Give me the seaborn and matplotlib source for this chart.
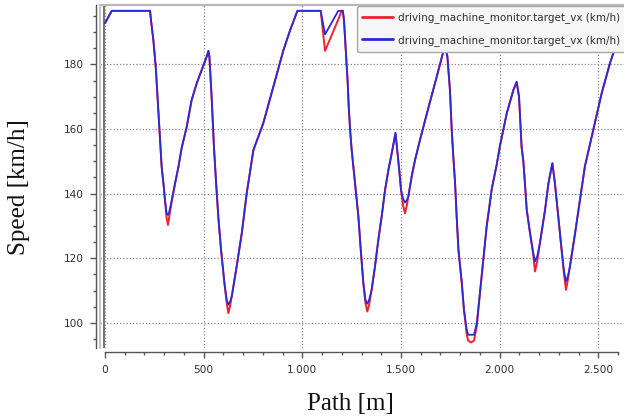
import matplotlib
matplotlib.use("Agg")
import matplotlib.pyplot as plt
import matplotlib.ticker as mticker
from matplotlib.lines import Line2D
import seaborn as sns
import pandas as pd

# ---- data ----
path_m = [0, 34, 228, 233, 245, 257, 267, 275, 287, 296, 304, 312, 319, 326, 338, 355, 372,
          388, 414, 439, 465, 490, 515, 524, 529, 541, 552, 563, 574, 588, 605, 617, 625, 633,
          642, 667, 693, 718, 752, 802, 853, 904, 938, 975, 1093, 1115, 1182, 1199, 1205,
          1211, 1220, 1225, 1230, 1235, 1242, 1250, 1267, 1284, 1296, 1309, 1320, 1329, 1338,
          1351, 1368, 1385, 1402, 1419, 1436, 1453, 1472, 1481, 1491, 1500, 1510, 1520, 1530,
          1537, 1554, 1571, 1596, 1638, 1681, 1723, 1735, 1748, 1757, 1765, 1774, 1782, 1791,
          1808, 1819, 1833, 1840, 1855, 1870, 1884, 1900, 1917, 1934, 1960, 1985, 2002, 2036,
          2069, 2086, 2098, 2103, 2111, 2120, 2128, 2137, 2154, 2167, 2179, 2190, 2204, 2230,
          2247, 2267, 2280, 2297, 2314, 2326, 2336, 2346, 2356, 2382, 2407, 2432, 2474, 2517,
          2559, 2584]

speed_blue = [192.8, 196.6, 196.6, 193.7, 187.5, 179.3, 169.0, 160.7, 148.3, 143.2, 138.0, 133.9,
              133.4, 134.5, 138.0, 143.2, 148.3, 154.0, 160.7, 169.0, 174.2, 178.3, 182.4, 184.2,
              182.4, 169.0, 154.5, 143.2, 132.9, 122.6, 112.3, 107.0, 105.6, 106.5, 108.1, 117.4,
              127.7, 140.1, 153.5, 161.8, 173.1, 184.4, 190.6, 196.6, 196.6, 189.3, 196.6, 196.6,
              196.6, 193.7, 184.4, 179.3, 174.1, 166.9, 159.7, 153.5, 143.2, 132.9, 122.6, 112.3,
              107.0, 105.9, 107.0, 110.2, 117.4, 125.7, 132.9, 141.1, 147.3, 152.5, 158.8, 153.5,
              147.3, 141.1, 138.5, 137.2, 138.0, 139.1, 145.3, 150.4, 156.6, 166.4, 176.2, 186.0,
              182.4, 172.0, 159.7, 151.5, 143.2, 132.9, 122.6, 112.3, 104.0, 97.8, 96.3, 96.3,
              96.3, 99.9, 109.2, 119.5, 129.8, 141.5, 149.0, 155.0, 164.9, 172.0, 174.6, 170.0,
              163.8, 154.5, 150.0, 143.2, 135.0, 127.7, 122.6, 119.0, 120.5, 124.7, 135.0, 143.2,
              149.4, 143.2, 132.9, 122.6, 116.0, 112.8, 114.5, 117.4, 127.7, 138.0, 148.5, 159.7,
              171.1, 180.4, 185.0]

speed_red = [192.8, 196.6, 196.6, 193.7, 187.5, 179.3, 169.0, 160.7, 148.3, 143.2, 138.0, 132.5,
             130.3, 133.0, 137.5, 143.2, 148.3, 154.0, 160.7, 169.0, 174.2, 178.3, 182.4, 184.2,
             182.4, 169.0, 154.5, 143.2, 132.9, 122.6, 112.3, 106.0, 103.0, 105.0, 108.1, 117.4,
             127.7, 140.1, 153.5, 161.8, 173.1, 184.4, 190.6, 196.6, 196.6, 184.2, 193.9, 196.6,
             196.6, 193.7, 184.4, 179.3, 174.1, 166.9, 159.7, 153.5, 143.2, 132.9, 122.6, 112.3,
             106.0, 103.5, 105.5, 110.2, 117.4, 125.7, 132.9, 141.1, 147.3, 152.5, 158.8, 153.5,
             147.3, 141.1, 136.5, 133.9, 136.5, 139.1, 145.3, 150.4, 156.6, 166.4, 176.2, 186.0,
             182.4, 172.0, 159.7, 151.5, 143.2, 132.9, 122.6, 112.3, 104.0, 96.5, 94.5, 93.9,
             94.5, 99.0, 109.2, 119.5, 129.8, 141.5, 149.0, 155.0, 164.9, 172.0, 174.6, 170.0,
             163.8, 154.5, 150.0, 143.2, 135.0, 127.7, 122.6, 115.9, 119.0, 124.7, 135.0, 143.2,
             149.4, 143.2, 132.9, 122.6, 115.0, 110.2, 113.5, 117.4, 127.7, 138.0, 148.5, 159.7,
             171.1, 180.4, 185.0]

series_label = "driving_machine_monitor.target_vx (km/h)"
x_ticks = [0, 500, 1000, 1500, 2000, 2500]
y_ticks = [100, 120, 140, 160, 180]
x_label = "Path [m]"
y_label = "Speed [km/h]"

# ---- figure ----
sns.set_theme(style="white")
plt.rcParams['font.family'] = ['DejaVu Sans']

W, H = 624, 419
fig = plt.figure(figsize=(W / 100, H / 100), dpi=100)
fig.patch.set_facecolor("white")

ax_left, ax_top, ax_bottom = 99.5, 4.7, 348.0
ax = fig.add_axes([ax_left / W, 1 - ax_bottom / H, 1 - ax_left / W, (ax_bottom - ax_top) / H])
ax.set_facecolor("white")

df_red = pd.DataFrame({"path": path_m, "speed": speed_red})
df_blue = pd.DataFrame({"path": path_m, "speed": speed_blue})

sns.lineplot(data=df_red, x="path", y="speed", color="#f0202e", lw=1.4, sort=False,
             label=series_label, ax=ax, zorder=3)
sns.lineplot(data=df_blue, x="path", y="speed", color="#2a2ad8", lw=1.3, sort=False,
             label=series_label, ax=ax, zorder=4)

ax.set_xlim(-28, 2630)
ax.set_ylim(92.2, 198.5)

# ticks
ax.set_xticks(x_ticks)
ax.set_yticks(y_ticks)
ax.xaxis.set_minor_locator(mticker.MultipleLocator(100))
ax.yaxis.set_minor_locator(mticker.MultipleLocator(5))
ax.xaxis.set_major_formatter(mticker.FuncFormatter(lambda v, p: f"{int(v):,}".replace(",", ".")))
ax.tick_params(axis="both", which="major", direction="out", length=4.6, width=1.0,
               color="#555555", labelsize=7.6, labelcolor="#2e2e3e")
ax.tick_params(axis="both", which="minor", direction="out", length=2.4, width=1.0,
               color="#555555")
ax.tick_params(axis="x", which="both", bottom=True, pad=4.5)
ax.tick_params(axis="y", which="both", left=True, pad=4.5)

# grid
ax.grid(True, which="major", color="#888888", linestyle=(0, (1, 1.6)), lw=0.9)
ax.set_axisbelow(True)

# spines
ax.spines["right"].set_visible(False)
ax.spines["top"].set_visible(False)
ax.spines["bottom"].set_position(("outward", 3.0))
ax.spines["bottom"].set_bounds(0, 2600)
ax.spines["bottom"].set_color("#555555")
ax.spines["bottom"].set_linewidth(1.0)
ax.spines["left"].set_position(("outward", 2.2))
ax.spines["left"].set_color("#555555")
ax.spines["left"].set_linewidth(1.0)

# frame lines of the plot area
ax.add_line(Line2D([0, 1], [1, 1], transform=ax.transAxes, color="#b8b8b8", lw=1.6,
                   clip_on=False, zorder=5))
ax.add_line(Line2D([0, 0], [0, 1], transform=ax.transAxes, color="#c4c4c4", lw=1.4,
                   clip_on=False, zorder=5))
ax.axvline(-3, color="#777777", lw=1.5, zorder=2)

ax.set_xlabel("")
ax.set_ylabel("")

# legend
leg = ax.legend(loc="upper left", bbox_to_anchor=(356.7 / W, 1 - 6.5 / H),
                bbox_transform=fig.transFigure, borderaxespad=0, fontsize=7.45,
                handlelength=3.0, handletextpad=0.45, borderpad=0.55, labelspacing=1.15,
                frameon=True, fancybox=True, facecolor="#f6f6f6", edgecolor="#a8a8a8",
                framealpha=1.0, shadow=False)
for t in leg.get_texts():
    t.set_color("#2e2e2e")
for h in leg.legend_handles:
    h.set_linewidth(2.0)
leg.set_zorder(10)

# axis titles
fig.text(19 / W, 1 - 187 / H, y_label, rotation=90, ha="center", va="center",
         family="Liberation Serif", fontsize=18, color="#111111")
fig.text(350 / W, 1 - 404 / H, x_label, ha="center", va="center",
         family="Liberation Serif", fontsize=18, color="#111111")

fig.savefig("out.png", dpi=100, facecolor="white")
